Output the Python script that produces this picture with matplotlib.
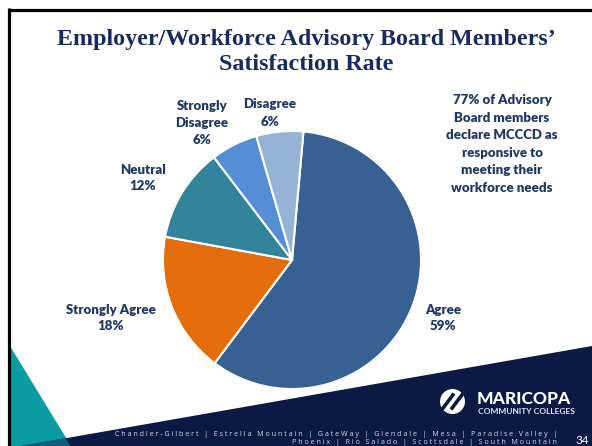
import numpy as np
import matplotlib.pyplot as plt
from matplotlib.patches import Polygon, Circle

# survey responses (17 board members)
categories = ["Agree", "Strongly Agree", "Neutral", "Strongly Disagree", "Disagree"]
counts = [10, 3, 2, 1, 1]
colors = ["#386193", "#E46C0A", "#31849B", "#558ED5", "#95B3D7"]
label_names = ["Agree", "Strongly Agree", "Neutral", "Strongly\nDisagree", "Disagree"]

title = "Employer/Workforce Advisory Board Members\u2019\nSatisfaction Rate"
note = ("77% of Advisory\nBoard members\ndeclare MCCCD as\n"
        "responsive to\nmeeting their\nworkforce needs")
colleges_1 = "Chandler-Gilbert | Estrella Mountain | GateWay | Glendale | Mesa | Paradise Valley |"
colleges_2 = "Phoenix | Rio Salado | Scottsdale | South Mountain"
page_no = "34"

W, H = 592, 446
NAVY_TXT = "#1F3864"
BAND = "#0B1A45"
TEAL = "#0A9CA3"


def Y(py):
    return H - py


def spaced(s):
    return " ".join(s)


fig = plt.figure(figsize=(W / 100, H / 100), dpi=100)
ax = fig.add_axes([0, 0, 1, 1])

total = sum(counts)
pcts = [round(100 * c / total) for c in counts]

wedges, _ = ax.pie(counts, colors=colors, startangle=84.9, counterclock=False,
                   center=(292, Y(260)), radius=129,
                   wedgeprops=dict(edgecolor="white", linewidth=1.5))

ax.set_xlim(0, W)
ax.set_ylim(0, H)
ax.set_aspect("equal")
ax.axis("off")

# data labels around the pie
label_pos = [(443, 318), (111, 318), (143, 178), (202, 123), (270, 113)]
for name, p, (lx, ly) in zip(label_names, pcts, label_pos):
    ax.text(lx, Y(ly), f"{name}\n{p}%", ha="center", va="center",
            fontsize=9.5, fontweight="heavy", family="Lato", color=NAVY_TXT,
            linespacing=1.5)

ax.text(502, Y(144), note, ha="center", va="center", fontsize=9.5,
        fontweight="heavy", family="Lato", color=NAVY_TXT, linespacing=1.55)

ax.text(306, Y(52), title, ha="center", va="center", fontsize=17.3,
        fontweight="bold", family="Liberation Serif", color="#172B5E",
        linespacing=1.25)

# slide decoration: frame, teal wedge, navy footer band
ax.plot([8.5, W], [Y(9.5), Y(9.5)], color="black", lw=2.3, solid_capstyle="butt")
ax.plot([8.5, 8.5], [Y(8.3), 0], color="black", lw=2.3, solid_capstyle="butt")

ax.add_patch(Polygon([(10, Y(346)), (10, 0), (70.5, 0)], closed=True,
                     facecolor=TEAL, edgecolor="none"))
ax.add_patch(Polygon([(10, Y(448)), (W, Y(346)), (W, -2), (10, -2)],
                     closed=True, facecolor=BAND, edgecolor="none"))
ax.add_patch(Polygon([(21, 0), (65.5, Y(438.2)), (70.5, 0)], closed=True,
                     facecolor="#0D5F7A", edgecolor="none"))

# college logo
ax.add_patch(Circle((452.5, Y(401.5)), 12.5, facecolor="white", edgecolor="none"))
for dx in (-4.5, 4.5):
    ax.plot([452.5 + dx - 6, 452.5 + dx + 6], [Y(401.5 + 8), Y(401.5 - 8)],
            color=BAND, lw=2.6, solid_capstyle="butt")
ax.text(477, Y(399), "MARICOPA", ha="left", va="center", fontsize=12.5,
        fontweight="black", family="Lato", color="white")
ax.text(478, Y(411.5), "COMMUNITY COLLEGES", ha="left", va="center",
        fontsize=6, fontweight="bold", family="Lato", color="#DDE2EE")

ax.text(557, Y(434), spaced(colleges_1), ha="right", va="center", fontsize=5.1,
        family="Open Sans", color="#D5DAE6")
ax.text(557, Y(443), spaced(colleges_2), ha="right", va="center", fontsize=5.1,
        family="Open Sans", color="#D5DAE6")
ax.text(589, Y(441), page_no, ha="right", va="center", fontsize=8.5,
        family="Lato", color="white")

fig.savefig("out.png", dpi=100)
